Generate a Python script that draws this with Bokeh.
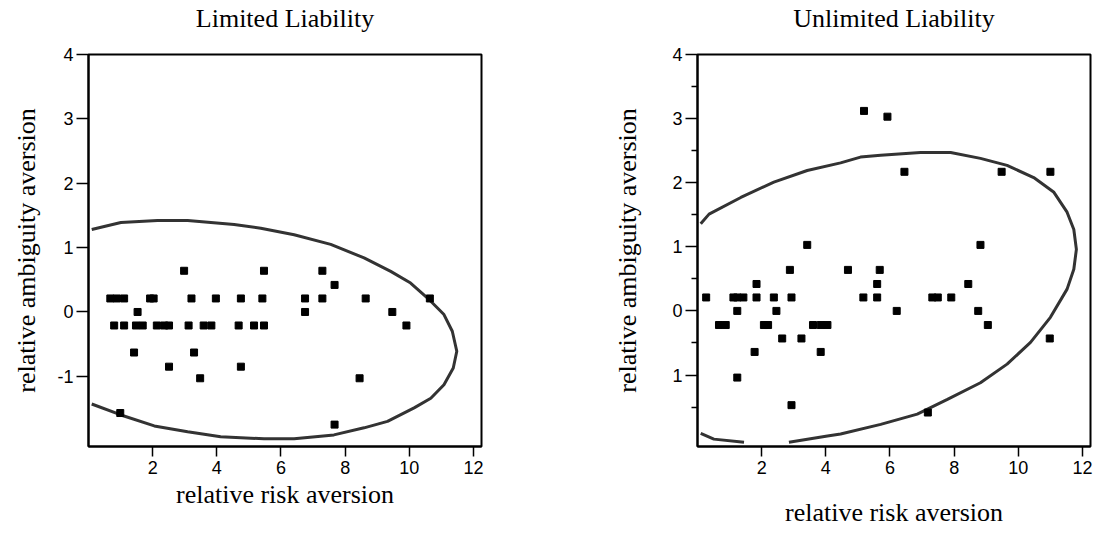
from bokeh.plotting import figure
from bokeh.layouts import row
from bokeh.models import FixedTicker, Range1d, LinearAxis
from bokeh.embed import file_html
from bokeh.resources import INLINE

nan = float("nan")

# ---------------- data ----------------
titles = ["Limited Liability", "Unlimited Liability"]
x_label = "relative risk aversion"
y_label = "relative ambiguity aversion"
x_ticks = [2, 4, 6, 8, 10, 12]
y_ticks = [-1, 0, 1, 2, 3, 4]
y_minor_right = [-1.5, -0.5, 0.5, 1.5, 2.5, 3.5]
left_y_label_overrides = {-1: "-1"}
right_y_label_overrides = {-1: "1"}

limited_x = [0.68, 0.88, 1.11, 1.92, 2.03, 3.21, 3.97, 4.75, 5.42, 6.75, 7.29, 8.64, 10.64,
             1.53, 6.75, 9.47,
             0.80, 1.11, 1.48, 1.69, 2.13, 2.36, 2.51, 3.12, 3.59, 3.83, 4.68, 5.16, 5.47, 9.91,
             1.42, 3.29, 2.51, 4.75, 3.48, 8.45, 0.99, 7.67, 7.67, 2.98, 5.47, 7.29]
limited_y = [0.21, 0.21, 0.21, 0.21, 0.21, 0.21, 0.21, 0.21, 0.21, 0.21, 0.21, 0.21, 0.21,
             0.0, 0.0, 0.0,
             -0.21, -0.21, -0.21, -0.21, -0.21, -0.21, -0.21, -0.21, -0.21, -0.21, -0.21, -0.21, -0.21, -0.21,
             -0.63, -0.63, -0.85, -0.85, -1.03, -1.03, -1.57, -1.75, 0.42, 0.64, 0.64, 0.64]

limited_ell_x = [0.10, 1.01, 2.15, 3.09, 4.54, 5.37, 6.41, 7.55, 8.59, 9.42, 10.04, 10.56, 11.08,
                 11.34, 11.48, 11.37, 11.08, 10.67, 10.15, 9.32, 8.59, 7.65, 6.41, 5.47, 4.12,
                 3.09, 2.05, 1.01, 0.10]
limited_ell_y = [1.28, 1.39, 1.42, 1.42, 1.36, 1.30, 1.20, 1.05, 0.84, 0.63, 0.45, 0.22, -0.04,
                 -0.30, -0.61, -0.87, -1.13, -1.34, -1.49, -1.70, -1.80, -1.91, -1.97, -1.97, -1.94,
                 -1.86, -1.77, -1.60, -1.43]

unlimited_x = [0.27, 1.12, 1.24, 1.43, 1.84, 2.38, 2.93, 5.17, 5.60, 7.32, 7.49, 7.91,
               1.84, 5.60, 8.44,
               1.24, 2.46, 6.21, 8.75,
               0.67, 0.88, 2.07, 2.20, 3.60, 3.84, 4.05, 9.05,
               2.64, 3.24, 10.98,
               1.78, 3.84, 1.24, 2.93, 7.18,
               2.88, 4.69, 5.68, 3.42, 8.82,
               6.45, 9.48, 11.0, 5.19, 5.92]
unlimited_y = [0.21, 0.21, 0.21, 0.21, 0.21, 0.21, 0.21, 0.21, 0.21, 0.21, 0.21, 0.21,
               0.42, 0.42, 0.42,
               0.0, 0.0, 0.0, 0.0,
               -0.22, -0.22, -0.22, -0.22, -0.22, -0.22, -0.22, -0.22,
               -0.43, -0.43, -0.43,
               -0.64, -0.64, -1.04, -1.47, -1.585,
               0.64, 0.64, 0.64, 1.03, 1.03,
               2.17, 2.17, 2.17, 3.12, 3.03]

unlimited_ell_x = [0.10, 0.36, 1.35, 2.38, 3.42, 4.46, 5.08, 5.71, 6.95, 7.89, 8.82, 9.65, 10.48,
                   11.11, 11.52, 11.73, 11.81, 11.73, 11.52, 11.0, 10.38, 9.65, 8.82, 7.79,
                   6.85, 5.71, 4.46, 4.05, 2.85, nan, 1.45, 0.51, 0.10]
unlimited_ell_y = [1.36, 1.51, 1.77, 2.01, 2.19, 2.31, 2.40, 2.43, 2.47, 2.47, 2.38, 2.27, 2.08,
                   1.85, 1.54, 1.27, 0.96, 0.65, 0.34, -0.10, -0.49, -0.83, -1.12, -1.38,
                   -1.61, -1.77, -1.92, -1.95, -2.05, nan, -2.05, -2.0, -1.91]

SERIF = "Liberation Serif"
SANS = "Liberation Sans"
X_MAX = 12.25


def make_panel(title, xs, ys, ex, ey, y_bottom, minor, overrides,
               mb_left, mb_right, xlab_standoff, ylab_standoff):
    p = figure(frame_width=393, frame_height=392, output_backend="svg", toolbar_location=None,
               x_range=Range1d(0, X_MAX), y_range=Range1d(y_bottom, 4.0),
               min_border_left=mb_left, min_border_right=mb_right,
               min_border_top=54, min_border_bottom=87, title=None)

    xa = p.below[0]
    ya = p.left[0]
    xa.ticker = FixedTicker(ticks=x_ticks, minor_ticks=[])
    ya.ticker = FixedTicker(ticks=y_ticks, minor_ticks=minor)
    ya.major_label_overrides = overrides
    for ax in (xa, ya):
        ax.axis_line_color = "black"
        ax.axis_line_width = 2
        ax.major_tick_in = 0
        ax.major_tick_out = 10
        ax.major_tick_line_width = 1.5
        ax.minor_tick_in = 0
        ax.minor_tick_out = 6
        ax.minor_tick_line_width = 1.5
        ax.major_label_text_font = SANS
        ax.major_label_text_font_size = "18px"
        ax.major_label_text_color = "black"
        ax.axis_label_text_font = SERIF
        ax.axis_label_text_font_size = "26px"
        ax.axis_label_text_font_style = "normal"
        ax.axis_label_text_color = "black"
    ya.major_tick_out = 12
    xa.axis_label = x_label
    ya.axis_label = y_label
    xa.major_label_standoff = 4
    ya.major_label_standoff = 3
    xa.axis_label_standoff = xlab_standoff
    ya.axis_label_standoff = ylab_standoff

    # panel title: the label of a bare, tickless axis above the frame
    top = LinearAxis(ticker=FixedTicker(ticks=[], minor_ticks=[]), axis_label=title,
                     axis_line_color=None, major_tick_line_color=None,
                     minor_tick_line_color=None, major_tick_in=0, major_tick_out=0,
                     minor_tick_in=0, minor_tick_out=0,
                     major_label_text_font=SANS, major_label_text_font_size="18px",
                     axis_label_text_font=SERIF, axis_label_text_font_size="26px",
                     axis_label_text_font_style="normal", axis_label_text_color="black",
                     axis_label_standoff=22)
    p.add_layout(top, "above")

    p.xgrid.visible = False
    p.ygrid.visible = False
    p.outline_line_color = "black"
    p.outline_line_width = 2
    p.outline_line_alpha = 1.0
    p.background_fill_color = "white"
    p.border_fill_color = "white"

    p.line(ex, ey, line_color="#333333", line_width=3)
    p.scatter(xs, ys, marker="square", size=7, fill_color="black", line_color="black")
    return p


p1 = make_panel(titles[0], limited_x, limited_y, limited_ell_x, limited_ell_y,
                -2.09, [], left_y_label_overrides, 88, 87, 3, 13)
p2 = make_panel(titles[1], unlimited_x, unlimited_y, unlimited_ell_x, unlimited_ell_y,
                -2.115, y_minor_right, right_y_label_overrides, 129, 6, 21, 27)

layout = row(p1, p2)
open("out.html", "w").write(file_html(layout, INLINE))
